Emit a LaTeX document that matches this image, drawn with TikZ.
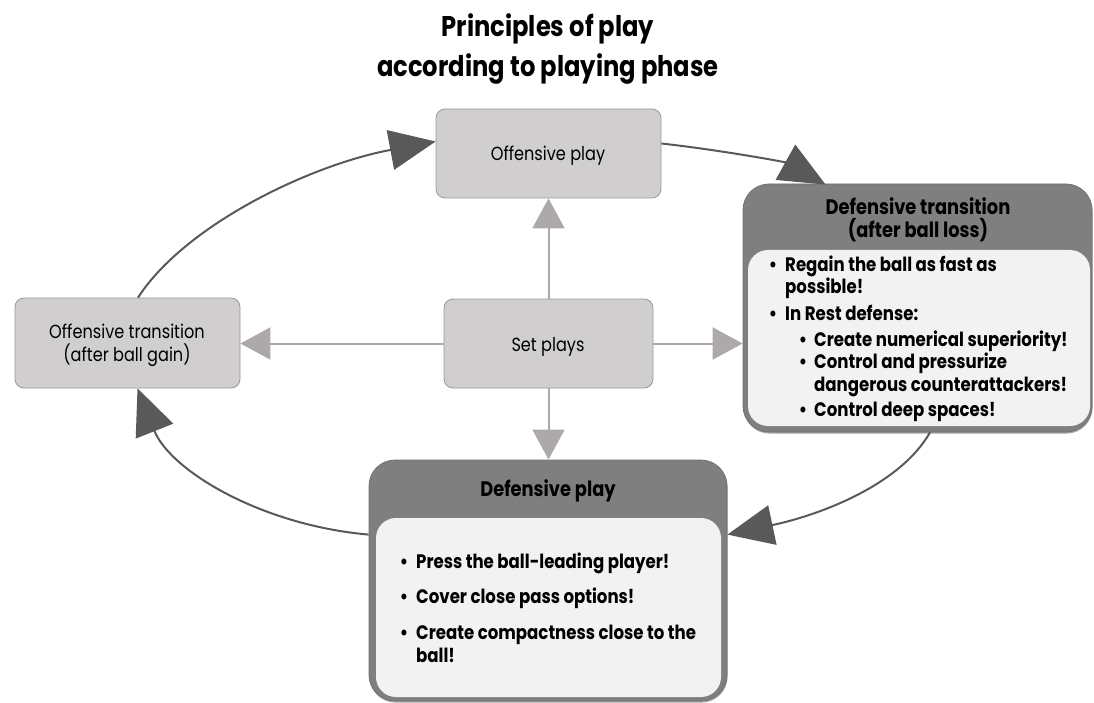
\documentclass[tikz,border=0pt]{standalone}
\usepackage{fontspec}
\setmainfont{Poppins}[FakeStretch=0.85]
\usetikzlibrary{arrows.meta,calc,shadows}
\definecolor{boxfill}{HTML}{D0CECF}
\definecolor{boxline}{HTML}{9A9898}
\definecolor{darkfill}{HTML}{7F7F7F}
\definecolor{darkline}{HTML}{727272}
\definecolor{innerfill}{HTML}{F2F2F2}
\definecolor{cyc}{HTML}{595959}
\definecolor{spk}{HTML}{ADA9A9}
\tikzset{
  lightbox/.style={draw=boxline, line width=0.8pt, fill=boxfill, rounded corners=9pt, inner sep=0pt},
  outerbox/.style={draw=darkline, line width=0.8pt, fill=darkfill, rounded corners=26pt, inner sep=0pt,
    drop shadow={shadow xshift=0.6pt, shadow yshift=-1.6pt, fill=black, opacity=0.35}},
  innerbox/.style={fill=innerfill, rounded corners=20pt, inner sep=0pt},
  plaintxt/.style={font=\fontsize{19}{22}\selectfont, anchor=base},
  headtxt/.style={font=\bfseries\fontsize{21}{22}\selectfont, anchor=base},
  itemtxt/.style={font=\bfseries\fontsize{19.5}{22}\selectfont, anchor=base west, inner sep=0pt},
  bul/.style={font=\bfseries\fontsize{19.5}{22}\selectfont, anchor=base, inner sep=0pt},
  titletxt/.style={font=\bfseries\fontsize{28.5}{30}\selectfont, anchor=base},
  cycarrow/.style={draw=cyc, line width=2pt, -{Triangle[length=46pt,width=40pt]}},
  spkarrow/.style={draw=spk, line width=2pt, -{Triangle[length=30pt,width=32pt]}}
}
\begin{document}
\begin{tikzpicture}[x=1pt,y=-1pt]
\useasboundingbox (0,0) rectangle (1094,703);
% title
\node[titletxt] (t1) at (548,37) {Principles of play};
\node[titletxt] (t2) at (548,77) {according to playing phase};
% light boxes
\node[lightbox, minimum width=225pt, minimum height=89pt] (off) at (548.5,153.5) {};
\node[plaintxt] at (548,161) {Offensive play};
\node[lightbox, minimum width=225pt, minimum height=90pt] (ot) at (127.5,343) {};
\node[plaintxt] at (127,338) {Offensive transition};
\node[plaintxt] at (127,361) {(after ball gain)};
\node[lightbox, minimum width=209pt, minimum height=89pt] (sp) at (548.5,343.5) {};
\node[plaintxt] at (548,351) {Set plays};
% defensive transition
\node[outerbox, minimum width=349pt, minimum height=248pt] (dt) at (917.5,308) {};
\node[innerbox, minimum width=342pt, minimum height=176pt] (dti) at (919,338) {};
\node[headtxt] at (918,215) {Defensive transition};
\node[headtxt] at (918,237) {(after ball loss)};
\node[bul] at (773,271) {\textbullet};
\node[itemtxt] at (785,271) {Regain the ball as fast as};
\node[itemtxt] at (785,293) {possible!};
\node[bul] at (773,320) {\textbullet};
\node[itemtxt] at (785,320) {In Rest defense:};
\node[bul] at (803,346) {\textbullet};
\node[itemtxt] at (814,346) {Create numerical superiority!};
\node[bul] at (803,368) {\textbullet};
\node[itemtxt] at (814,368) {Control and pressurize};
\node[itemtxt] at (814,391) {dangerous counterattackers!};
\node[bul] at (803,416) {\textbullet};
\node[itemtxt] at (814,416) {Control deep spaces!};
% defensive play
\node[outerbox, minimum width=358pt, minimum height=241pt] (dp) at (548,580.5) {};
\node[innerbox, minimum width=345pt, minimum height=179pt] (dpi) at (548.5,607.5) {};
\node[headtxt] at (548,496) {Defensive play};
\node[bul] at (404,568) {\textbullet};
\node[itemtxt] at (416,568) {Press the ball-leading player!};
\node[bul] at (404,603.5) {\textbullet};
\node[itemtxt] at (416,603.5) {Cover close pass options!};
\node[bul] at (404,639) {\textbullet};
\node[itemtxt] at (416,639) {Create compactness close to the};
\node[itemtxt] at (416,662) {ball!};
% set plays spokes
\draw[spkarrow] (sp.north) -- (sp.north |- off.south);
\draw[spkarrow] (sp.west) -- (sp.west -| ot.east);
\draw[spkarrow] (sp.east) -- (sp.east -| dt.west);
\draw[spkarrow] (sp.south) -- (sp.south |- dp.north);
% cycle
\draw[cycarrow] ($(ot.north)+(10.5,0)$) .. controls (185,225) and (310,165) .. ($(off.west)+(0,-12)$);
\draw[cycarrow] ($(off.east)+(0,-10)$) .. controls (720,150) and (785,162) .. ($(dt.north west)+(83,1)$);
\draw[cycarrow] ($(dt.south)+(12.5,0)$) .. controls (900,485) and (820,515) .. ($(dp.north east)+(0,75)$);
\draw[cycarrow] ($(dp.north west)+(0,75)$) .. controls (260,525) and (170,470) .. ($(ot.south)+(10,0)$);
\end{tikzpicture}
\end{document}
